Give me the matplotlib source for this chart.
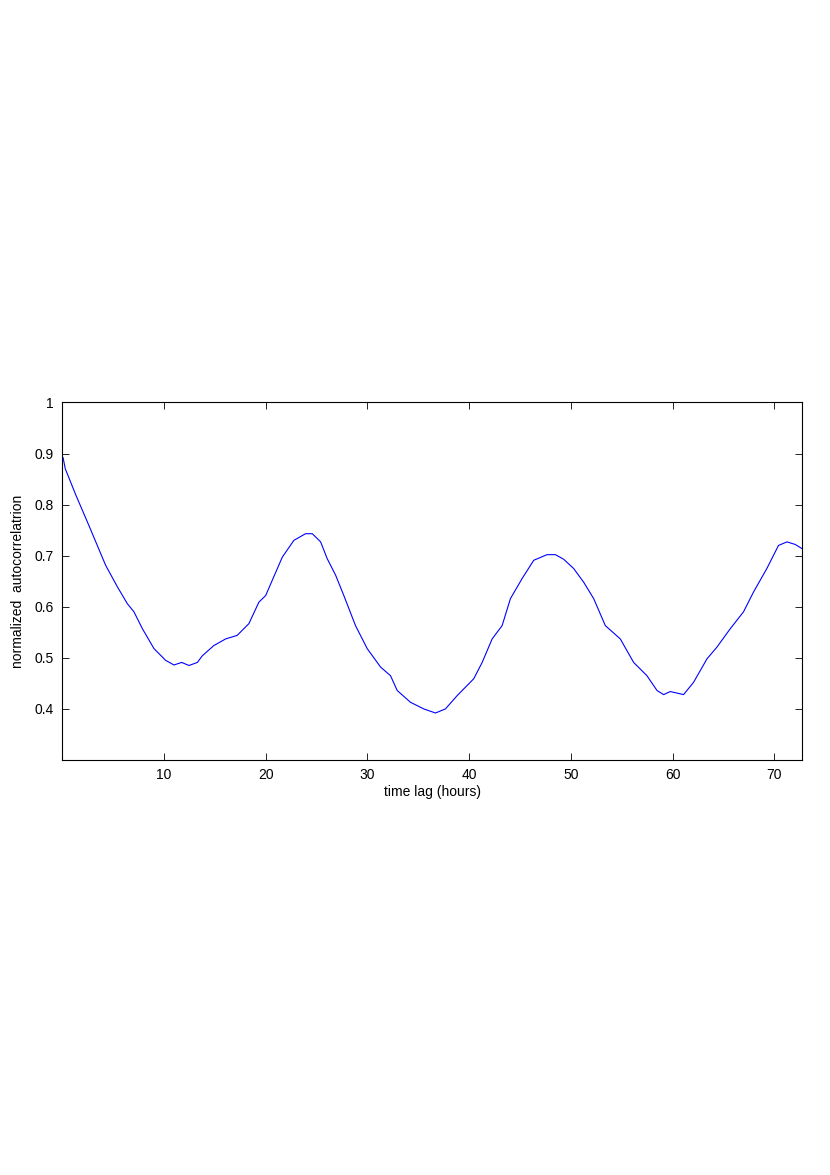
import matplotlib
matplotlib.use('Agg')
from matplotlib import pyplot as plt

# values
lag_hours = [0.08, 0.3, 1.33, 2.6, 4.27, 5.42, 6.4, 7.05, 7.88, 9.02, 10.17, 10.98,
             11.74, 12.46, 13.28, 13.77, 14.9, 16.06, 17.2, 18.35, 19.33, 20.0, 20.65,
             21.63, 22.77, 23.92, 24.58, 25.4, 26.05, 26.87, 27.68, 28.83, 29.98, 31.29,
             32.27, 32.93, 34.23, 35.54, 36.69, 37.67, 38.82, 40.45, 41.28, 42.26, 43.24,
             44.06, 45.2, 46.35, 47.66, 48.48, 49.29, 50.27, 51.26, 52.24, 53.39, 54.86,
             56.17, 57.48, 58.47, 59.12, 59.77, 61.08, 62.06, 63.38, 64.36, 65.67, 66.97,
             67.96, 69.27, 70.41, 71.24, 72.05, 72.71]
autocorr = [0.892, 0.870, 0.819, 0.760, 0.681, 0.639, 0.606, 0.590, 0.557, 0.518, 0.495, 0.486,
            0.491, 0.485, 0.491, 0.504, 0.524, 0.537, 0.544, 0.567, 0.609, 0.622, 0.652,
            0.697, 0.730, 0.743, 0.743, 0.727, 0.694, 0.662, 0.622, 0.563, 0.518, 0.482,
            0.465, 0.436, 0.413, 0.400, 0.392, 0.400, 0.426, 0.459, 0.491, 0.537, 0.563,
            0.616, 0.655, 0.691, 0.702, 0.702, 0.693, 0.675, 0.648, 0.616, 0.563, 0.537,
            0.491, 0.465, 0.436, 0.428, 0.434, 0.428, 0.452, 0.498, 0.521, 0.557, 0.590,
            0.629, 0.675, 0.720, 0.727, 0.722, 0.714]

x_ticks = [10, 20, 30, 40, 50, 60, 70]
y_ticks = [0.4, 0.5, 0.6, 0.7, 0.8, 0.9, 1.0]
y_tick_labels = ['0.4', '0.5', '0.6', '0.7', '0.8', '0.9', '1']

plt.rcParams['font.family'] = ['Liberation Sans', 'DejaVu Sans']
plt.rcParams['font.size'] = 10

fig = plt.figure(figsize=(8.3, 11.75), dpi=100)
ax = fig.add_axes([0.075, 0.3532, 0.891, 0.3043])

ax.plot(lag_hours, autocorr, color='#0000ff', lw=0.8)

ax.set_xlim(0, 72.7)
ax.set_ylim(0.3, 1.0)
ax.set_xticks(x_ticks)
ax.set_yticks(y_ticks)
ax.set_yticklabels(y_tick_labels)
ax.tick_params(direction='in', length=5, width=0.6, top=True, right=True, pad=6)
for s in ax.spines.values():
    s.set_linewidth(0.8)

ax.set_xlabel('time lag (hours)', labelpad=2)
# the original label is spelled this way
ax.set_ylabel('normalized  autocorrelatrion', labelpad=7)

fig.savefig('out.png', dpi=100)
